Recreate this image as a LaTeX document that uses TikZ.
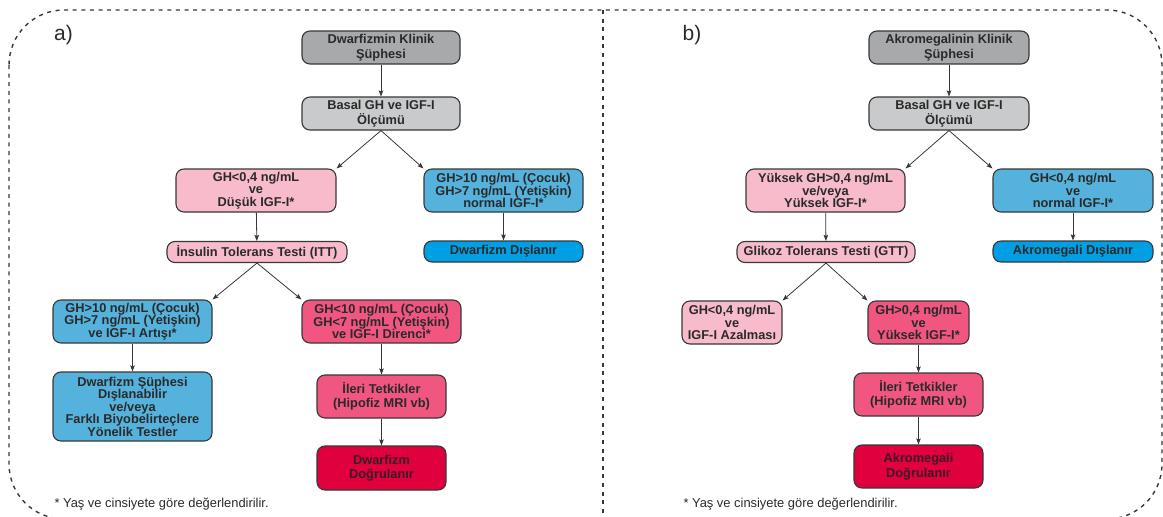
\documentclass[tikz,border=0pt]{standalone}
\usepackage{fontspec}
\setmainfont{Liberation Sans}
\usetikzlibrary{arrows.meta}

\definecolor{edge}{HTML}{383838}
\definecolor{ink}{HTML}{2A2A2A}
\definecolor{greyD}{HTML}{A8A9AB}
\definecolor{greyL}{HTML}{C9CACB}
\definecolor{pinkL}{HTML}{F8BBCB}
\definecolor{blueM}{HTML}{55B2DC}
\definecolor{blueB}{HTML}{009FE3}
\definecolor{pinkR}{HTML}{F0567F}
\definecolor{crimson}{HTML}{E0003D}
\definecolor{crimsonInk}{HTML}{3E1824}

\begin{document}
\begin{tikzpicture}[x=1pt,y=-1pt,
  box/.style={draw=edge, line width=1.1pt, rounded corners=8pt, align=center,
    inner sep=0pt, text=ink, font=\bfseries\fontsize{12.8}{12.5}\selectfont},
  tall/.style={font=\bfseries\fontsize{12.8}{14.5}\selectfont},
  sz/.style n args={2}{minimum width=#1pt, minimum height=#2pt},
  flow/.style={draw=edge, line width=0.8pt, -{Stealth[length=6pt,width=4.5pt,inset=1pt]}},
  frame/.style={draw=edge, line width=1.4pt, dash pattern=on 4pt off 4.6pt},
  tag/.style={font=\fontsize{21}{21}\selectfont, text=ink},
  note/.style={font=\fontsize{12.9}{12.9}\selectfont, text=ink, anchor=west}
]
\useasboundingbox (0,0) rectangle (1163,517);

% outer dashed frame and divider
\draw[frame, rounded corners=55pt] (9,10) rectangle (1162,519);
\draw[frame] (603,10) -- (603,519);

\node[tag] (ta) at (63.5,35) {a)};
\node[tag] (tb) at (692,35) {b)};

% ---- a) dwarfism ----
\node[box, tall, fill=greyD, sz={158}{33}] (a1) at (381,47.5) {Dwarfizmin Klinik\\Şüphesi};
\node[box, tall, fill=greyL, sz={158}{33}] (a2) at (381,113.5) {Basal GH ve IGF-I\\Ölçümü};
\node[box, fill=pinkL, sz={160}{43}] (a3) at (256,190.5) {GH<0,4 ng/mL\\ve\\Düşük IGF-I*};
\node[box, fill=blueM, sz={159}{43}] (a4) at (503.5,190.5) {GH>10 ng/mL (Çocuk)\\GH>7 ng/mL (Yetişkin)\\normal IGF-I*};
\node[box, fill=pinkL, sz={180}{21}] (a5) at (257,252) {İnsulin Tolerans Testi (ITT)};
\node[box, fill=blueB, sz={159}{21}] (a6) at (503.5,251.5) {Dwarfizm Dışlanır};
\node[box, fill=blueM, sz={159}{43}] (a7) at (132.5,321.5) {GH>10 ng/mL (Çocuk)\\GH>7 ng/mL (Yetişkin)\\ve IGF-I Artışı*};
\node[box, fill=pinkR, sz={159}{43}] (a8) at (381.5,321.5) {GH<10 ng/mL (Çocuk)\\GH<7 ng/mL (Yetişkin)\\ve IGF-I Direnci*};
\node[box, fill=blueM, sz={159}{69}] (a9) at (132.5,406.5) {Dwarfizm Şüphesi\\Dışlanabilir\\ve/veya\\Farklı Biyobelirteçlere\\Yönelik Testler};
\node[box, tall, fill=pinkR, sz={129}{43}] (a10) at (381.5,396.5) {İleri Tetkikler\\(Hipofiz MRI vb)};
\node[box, tall, fill=crimson, text=crimsonInk, sz={129}{44}] (a11) at (381.5,468) {Dwarfizm\\Doğrulanır};

\draw[flow] (a1) -- (a2);
\draw[flow] (a2.south) -- (a3.north east);
\draw[flow] (a2.south) -- (a4.north west);
\draw[flow] (a3) -- (a5);
\draw[flow] (a4) -- (a6);
\draw[flow] (a5.south) -- (a7.north east);
\draw[flow] (a5.south) -- (a8.north west);
\draw[flow] (a7) -- (a9);
\draw[flow] (a8) -- (a10);
\draw[flow] (a10) -- (a11);

\node[note] (na) at (51,504) {* Yaş ve cinsiyete göre değerlendirilir.};

% ---- b) acromegaly ----
\node[box, tall, fill=greyD, sz={160}{33}] (b1) at (949,47.5) {Akromegalinin Klinik\\Şüphesi};
\node[box, tall, fill=greyL, sz={160}{33}] (b2) at (949,113.5) {Basal GH ve IGF-I\\Ölçümü};
\node[box, fill=pinkL, sz={159}{43}] (b3) at (825.5,190.5) {Yüksek GH>0,4 ng/mL\\ve/veya\\Yüksek IGF-I*};
\node[box, fill=blueM, sz={160}{43}] (b4) at (1073,190.5) {GH<0,4 ng/mL\\ve\\normal IGF-I*};
\node[box, fill=pinkL, sz={178}{21}] (b5) at (826,252) {Glikoz Tolerans Testi (GTT)};
\node[box, fill=blueB, sz={160}{21}] (b6) at (1073,251.5) {Akromegali Dışlanır};
\node[box, fill=pinkL, sz={100}{43}] (b7) at (732,322.5) {GH<0,4 ng/mL\\ve\\IGF-I Azalması};
\node[box, fill=pinkR, sz={101}{43}] (b8) at (918.5,322.5) {GH>0,4 ng/mL\\ve\\Yüksek IGF-I*};
\node[box, tall, fill=pinkR, sz={129}{43}] (b10) at (918.5,394.5) {İleri Tetkikler\\(Hipofiz MRI vb)};
\node[box, tall, fill=crimson, text=crimsonInk, sz={129}{43}] (b11) at (918.5,466.5) {Akromegali\\Doğrulanır};

\draw[flow] (b1) -- (b2);
\draw[flow] (b2.south) -- (b3.north east);
\draw[flow] (b2.south) -- (b4.north west);
\draw[flow] (b3) -- (b5);
\draw[flow] (b4) -- (b6);
\draw[flow] (b5.south) -- (b7.north east);
\draw[flow] (b5.south) -- (b8.north west);
\draw[flow] (b8) -- (b10);
\draw[flow] (b10) -- (b11);

\node[note] (nb) at (680,504) {* Yaş ve cinsiyete göre değerlendirilir.};
\end{tikzpicture}
\end{document}
